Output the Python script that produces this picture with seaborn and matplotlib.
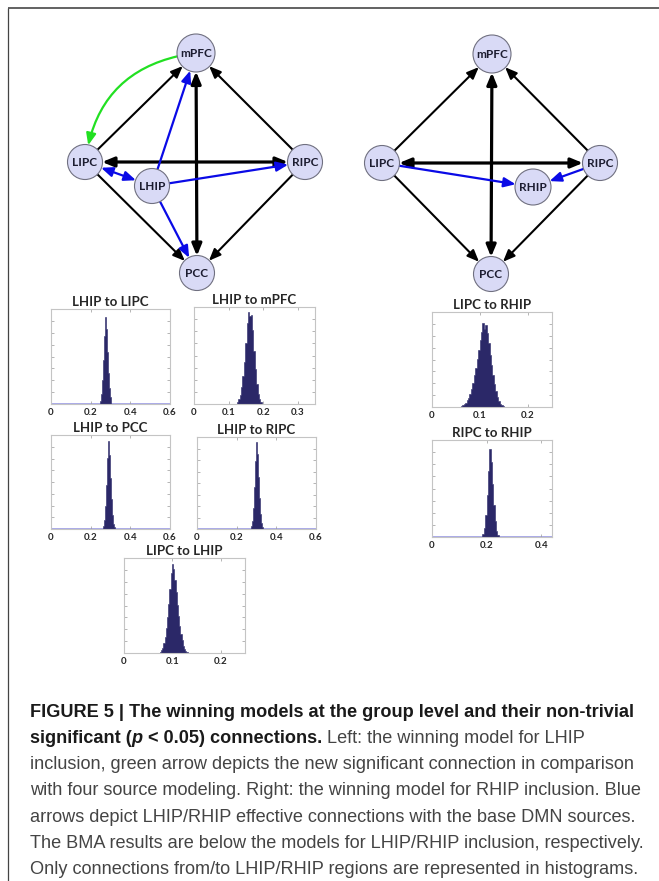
import numpy as np
import pandas as pd
import matplotlib
matplotlib.use("Agg")
import matplotlib.pyplot as plt
import seaborn as sns
from matplotlib.patches import Circle, FancyArrowPatch, ArrowStyle

# ---------------------------------------------------------------- data
LEFT_NODES = ["mPFC", "LIPC", "RIPC", "LHIP", "PCC"]
RIGHT_NODES = ["mPFC", "LIPC", "RIPC", "RHIP", "PCC"]

# (source, target, kind, two-way)
LEFT_EDGES = [
    ("LIPC", "mPFC", "base", False),
    ("RIPC", "mPFC", "base", False),
    ("LIPC", "PCC", "base", False),
    ("RIPC", "PCC", "base", False),
    ("mPFC", "PCC", "strong", True),
    ("LIPC", "RIPC", "strong", True),
    ("mPFC", "LIPC", "new", False),
    ("LHIP", "mPFC", "hip", False),
    ("LHIP", "LIPC", "hip", True),
    ("LHIP", "RIPC", "hip", False),
    ("LHIP", "PCC", "hip", False),
]
RIGHT_EDGES = [
    ("LIPC", "mPFC", "base", False),
    ("RIPC", "mPFC", "base", False),
    ("LIPC", "PCC", "base", False),
    ("RIPC", "PCC", "base", False),
    ("mPFC", "PCC", "strong", True),
    ("LIPC", "RIPC", "strong", True),
    ("LIPC", "RHIP", "hip", False),
    ("RIPC", "RHIP", "hip", False),
]

HIST_TITLES = ["LHIP to LIPC", "LHIP to mPFC", "LHIP to PCC", "LHIP to RIPC",
               "LIPC to RHIP", "RIPC to RHIP", "LIPC to LHIP"]
HIST_BIN_START = [0.245, 0.124, 0.262, 0.272, 0.060, 0.185, 0.074]
HIST_BIN_WIDTH = [0.005, 0.004, 0.005, 0.005, 0.003, 0.005, 0.0025]
COUNTS_LHIP_LIPC = [4, 12, 28, 50, 78, 100, 86, 60, 36, 18, 8, 3]
COUNTS_LHIP_MPFC = [2, 5, 10, 18, 30, 46, 66, 88, 100, 96, 97, 80, 58, 38, 22, 11, 5, 2]
COUNTS_LHIP_PCC = [3, 10, 26, 50, 80, 100, 84, 58, 34, 16, 6, 2]
COUNTS_LHIP_RIPC = [3, 9, 24, 48, 78, 100, 86, 60, 35, 17, 7, 2]
COUNTS_LIPC_RHIP = [1, 2, 3, 5, 8, 11, 16, 22, 29, 38, 47, 58, 68, 80, 90, 100, 93, 98,
                    88, 76, 62, 50, 38, 28, 19, 12, 7, 4, 2, 1]
COUNTS_RIPC_RHIP = [3, 10, 25, 48, 75, 100, 85, 60, 36, 18, 7, 2]
COUNTS_LIPC_LHIP = [1, 3, 6, 11, 18, 28, 40, 55, 72, 90, 100, 94, 82, 68, 54, 41, 30, 21,
                    14, 8, 4, 2, 1]
HIST_COUNTS = [COUNTS_LHIP_LIPC, COUNTS_LHIP_MPFC, COUNTS_LHIP_PCC, COUNTS_LHIP_RIPC,
               COUNTS_LIPC_RHIP, COUNTS_RIPC_RHIP, COUNTS_LIPC_LHIP]
HIST_XMAX = [0.6, 0.35, 0.6, 0.6, 0.25, 0.44, 0.25]
HIST_XTICKS = [[0, 0.2, 0.4, 0.6], [0, 0.1, 0.2, 0.3], [0, 0.2, 0.4, 0.6],
               [0, 0.2, 0.4, 0.6], [0, 0.1, 0.2], [0, 0.2, 0.4], [0, 0.1, 0.2]]
HIST_XTICKLABELS = [["0", "0.2", "0.4", "0.6"], ["0", "0.1", "0.2", "0.3"],
                    ["0", "0.2", "0.4", "0.6"], ["0", "0.2", "0.4", "0.6"],
                    ["0", "0.1", "0.2"], ["0", "0.2", "0.4"], ["0", "0.1", "0.2"]]

CAPTION_BOLD_1 = "FIGURE 5 | The winning models at the group level and their non-trivial"
CAPTION_2_PARTS = [("significant (", "bold", "normal", 0),
                   ("p", "bold", "italic", 0),
                   ("< 0.05) connections.", "bold", "normal", 1),
                   ("Left: the winning model for LHIP", "normal", "normal", 1)]
CAPTION_REST = [
    "inclusion, green arrow depicts the new significant connection in comparison",
    "with four source modeling. Right: the winning model for RHIP inclusion. Blue",
    "arrows depict LHIP/RHIP effective connections with the base DMN sources.",
    "The BMA results are below the models for LHIP/RHIP inclusion, respectively.",
    "Only connections from/to LHIP/RHIP regions are represented in histograms.",
]

# ---------------------------------------------------------------- layout
W, H = 659, 881
LEFT_POS = {"mPFC": (196, 53), "LIPC": (85, 162), "RIPC": (305, 162),
            "LHIP": (152, 186), "PCC": (197, 273)}
RIGHT_POS = {"mPFC": (492, 54), "LIPC": (382, 163), "RIPC": (600, 163),
             "RHIP": (533, 187), "PCC": (491, 274)}
NODE_R = {"mPFC": 19, "LIPC": 17.5, "RIPC": 17.5, "LHIP": 17.5, "RHIP": 18, "PCC": 17.5}
# histogram boxes in pixels: left, top, right, bottom
HIST_BOX = [(51, 309, 170, 404), (194, 307, 315, 404), (51, 435, 170, 529),
            (197, 437, 316, 529), (432, 312, 552, 407), (432, 440, 552, 537),
            (124, 558, 245, 653)]
HIST_PEAK_FRAC = [0.92, 0.95, 0.94, 0.95, 0.88, 0.91, 0.94]
HIST_BASELINE = [True, False, True, True, False, True, False]

NAVY = "#2b2868"
NODE_FACE = "#d9daf6"
EDGE_STYLE = {
    "base": dict(color="black", lw=1.5),
    "strong": dict(color="black", lw=2.3),
    "hip": dict(color="#0a0ae6", lw=1.6),
    "new": dict(color="#22e022", lw=1.6),
}

sns.set_style("white")
plt.rcParams["font.family"] = ["Lato", "DejaVu Sans"]

fig = plt.figure(figsize=(W / 100, H / 100), dpi=100)
canvas = fig.add_axes([0, 0, 1, 1])
canvas.set_xlim(0, W)
canvas.set_ylim(H, 0)
canvas.axis("off")

# page frame
canvas.plot([8, W], [8, 8], color="#555555", lw=1.3, solid_capstyle="butt")
canvas.plot([8, 8], [8, H], color="#444444", lw=0.9, solid_capstyle="butt")


def draw_network(nodes, edges, pos):
    circles = {}
    for name in nodes:
        c = Circle(pos[name], NODE_R[name], facecolor=NODE_FACE,
                   edgecolor="#707080", lw=0.8, zorder=3)
        canvas.add_patch(c)
        circles[name] = c
        canvas.text(pos[name][0], pos[name][1] + 0.5, name, ha="center", va="center",
                    fontsize=8.5, fontweight="bold", color="#1c1c30", zorder=4)
    for src, dst, kind, both in edges:
        style = EDGE_STYLE[kind]
        head = "<|-|>" if both else "-|>"
        rad = 0.38 if kind == "new" else 0.0
        arrow = FancyArrowPatch(
            pos[src], pos[dst], patchA=circles[src], patchB=circles[dst],
            shrinkA=0, shrinkB=0,
            arrowstyle=ArrowStyle(head, head_length=7, head_width=2.9),
            connectionstyle=f"arc3,rad={rad}", mutation_scale=1,
            color=style["color"], lw=style["lw"], zorder=2)
        canvas.add_patch(arrow)


draw_network(LEFT_NODES, LEFT_EDGES, LEFT_POS)
draw_network(RIGHT_NODES, RIGHT_EDGES, RIGHT_POS)

# posterior histograms
for i, title in enumerate(HIST_TITLES):
    l, t, r, b = HIST_BOX[i]
    ax = fig.add_axes([l / W, 1 - b / H, (r - l) / W, (b - t) / H])
    counts = np.array(HIST_COUNTS[i], dtype=float)
    edges = HIST_BIN_START[i] + HIST_BIN_WIDTH[i] * np.arange(len(counts) + 1)
    df = pd.DataFrame({"value": 0.5 * (edges[:-1] + edges[1:]), "count": counts})
    ytop = counts.max() / HIST_PEAK_FRAC[i]
    if HIST_BASELINE[i]:
        ax.axhline(0, color="#a9a9ea", lw=1.4, zorder=0.5)
    sns.histplot(data=df, x="value", weights="count", bins=list(edges), ax=ax,
                 element="step", fill=True, color=NAVY, edgecolor=NAVY,
                 linewidth=0.4, alpha=1)
    ax.set_xlim(0, HIST_XMAX[i])
    ax.set_ylim(0, ytop)
    ax.set_xticks(HIST_XTICKS[i])
    ax.set_xticklabels(HIST_XTICKLABELS[i], fontsize=7, fontweight="bold")
    ax.set_yticks(np.linspace(0, ytop, 9)[1:-1])
    ax.set_yticklabels([])
    ax.set_ylabel("")
    ax.set_xlabel("")
    ax.tick_params(direction="in", length=2, width=0.5, color="#999999",
                   top=True, right=True, bottom=True, left=True, pad=3)
    for s in ax.spines.values():
        s.set_color("#c4c4c4")
        s.set_linewidth(0.8)
    ax.set_title(title, fontsize=9.5, fontweight="bold", pad=2)

# caption
renderer = fig.canvas.get_renderer()
CAP_FONT = ["Liberation Sans", "DejaVu Sans"]
probe = canvas.text(30, 0, CAPTION_REST[0], fontsize=12, family=CAP_FONT)
cap_size = 12 * 607 / probe.get_window_extent(renderer).width
probe.remove()

baselines = [717, 743, 769, 795, 822, 848, 874]
canvas.text(30, baselines[0], CAPTION_BOLD_1, fontsize=cap_size, fontweight="bold",
            family=CAP_FONT, color="#1a1a1a", va="baseline")
x = 30
gap = cap_size * 100 / 72 * 0.28
for txt, weight, st, pre in CAPTION_2_PARTS:
    x += gap * pre
    tt = canvas.text(x, baselines[1], txt, fontsize=cap_size, fontweight=weight,
                     fontstyle=st, family=CAP_FONT,
                     color="#1a1a1a" if weight == "bold" else "#444444", va="baseline")
    x = tt.get_window_extent(renderer).x1
for k, line in enumerate(CAPTION_REST):
    canvas.text(30, baselines[k + 2], line, fontsize=cap_size, family=CAP_FONT,
                color="#444444", va="baseline")

fig.savefig("out.png", dpi=100)
